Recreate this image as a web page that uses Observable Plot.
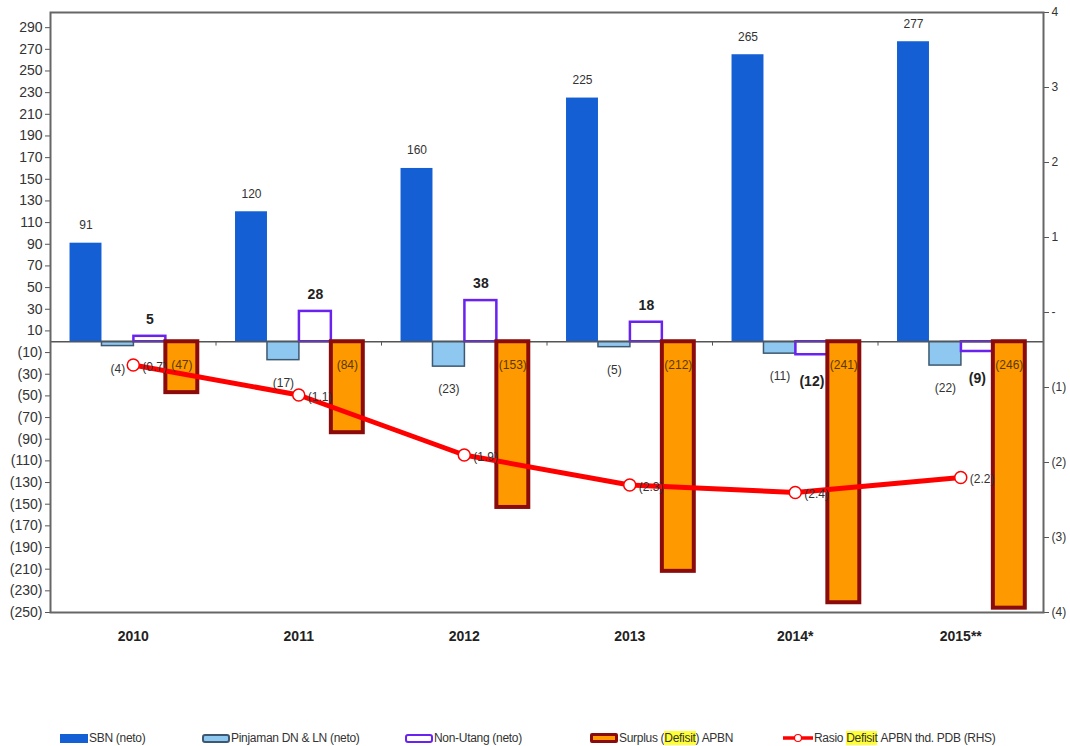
<!DOCTYPE html>
<html>
<head>
<meta charset="utf-8">
<script src="https://cdn.jsdelivr.net/npm/d3@7"></script>
<script src="https://cdn.jsdelivr.net/npm/@observablehq/plot@0.6"></script>
<style>
  body { margin: 0; background: #fff; font-family: "Liberation Sans Narrow", "Arial Narrow", "Liberation Sans", Arial, sans-serif; }
  #wrap { position: relative; width: 1070px; height: 746px; }
  #legend { position: absolute; left: 0; top: 730px; width: 1070px; height: 16px; font-size: 12px; color: #333; }
  .item { position: absolute; top: 0; display: flex; align-items: center; height: 16px; white-space: nowrap; letter-spacing: -0.3px; }
  .sw { width: 28px; height: 9px; box-sizing: border-box; margin-right: 1px; }
  .hl { background: #ffff33; }
</style>
</head>
<body>
<div id="wrap">
  <div id="chart"></div>
  <div id="legend">
    <div class="item" style="left:60px"><div class="sw" style="background:#135fd3"></div>SBN (neto)</div>
    <div class="item" style="left:202px"><div class="sw" style="background:#8ec8f0;border:2px solid #3d5870;border-radius:3px"></div>Pinjaman DN &amp; LN (neto)</div>
    <div class="item" style="left:405px"><div class="sw" style="background:#fff;border:2px solid #6a22f0;border-radius:3px"></div>Non-Utang (neto)</div>
    <div class="item" style="left:590px"><div class="sw" style="background:#ff9900;border:3px solid #8b0a0a;border-radius:2px;height:10px"></div>Surplus (<span class="hl">Defisit</span>) APBN</div>
    <div class="item" style="left:783px"><svg width="30" height="12" style="margin-right:1px"><line x1="0" y1="6" x2="30" y2="6" stroke="#ff0000" stroke-width="3.5"/><circle cx="15" cy="6" r="3.5" fill="#fff" stroke="#ff0000" stroke-width="1.2"/></svg>Rasio&nbsp;<span class="hl">Defisit</span>&nbsp;APBN thd. PDB (RHS)</div>
  </div>
</div>
<script>
// ---- data ----
const years = ["2010", "2011", "2012", "2013", "2014*", "2015**"];
const sbn = [91, 120, 160, 225, 265, 277];
const pinjaman = [-4, -17, -23, -5, -11, -22];
const nonUtang = [5, 28, 38, 18, -12, -9];
const surplus = [-47, -84, -153, -212, -241, -246];
const rasio = [-0.7, -1.1, -1.9, -2.3, -2.4, -2.2];
const rasioLabels = ["(0.7)", "(1.1)", "(1.9)", "(2.3)", "(2.4)", "(2.2)"];
const leftTicks = [-250, -230, -210, -190, -170, -150, -130, -110, -90, -70, -50, -30, -10, 10, 30, 50, 70, 90, 110, 130, 150, 170, 190, 210, 230, 250, 270, 290];
const rightTicks = [-4, -3, -2, -1, 0, 1, 2, 3, 4];

// ---- layout helpers ----
const leftDomain = [-250, 304];
const rightDomain = [-4, 4];
const toLeft = d3.scaleLinear().domain(rightDomain).range(leftDomain);
const fmt = v => v === 0 ? "-" : (v < 0 ? `(${Math.abs(v)})` : `${v}`);

const barW = 0.193, groupOff = 0.118;
const seriesList = [
  {key: "sbn", values: sbn},
  {key: "pinjaman", values: pinjaman},
  {key: "nonUtang", values: nonUtang},
  {key: "surplus", values: surplus}
];
const rows = [];
seriesList.forEach((s, k) => {
  s.values.forEach((v, i) => {
    const x1 = i + groupOff + k * barW;
    rows.push({series: s.key, i, v, x1, x2: x1 + barW, xc: x1 + barW / 2, label: fmt(v)});
  });
});
const bySeries = key => rows.filter(r => r.series === key);
const lineData = rasio.map((r, i) => ({x: i + 0.5, y: toLeft(r), label: rasioLabels[i]}));

const font = '"Liberation Sans Narrow", "Arial Narrow", "Liberation Sans", Arial, sans-serif';

const chart = Plot.plot({
  width: 1070,
  height: 660,
  marginLeft: 50,
  marginRight: 27,
  marginTop: 12,
  marginBottom: 48,
  style: {fontFamily: font, fontSize: "13px", color: "#333", background: "#fff"},
  x: {type: "linear", domain: [0, 6]},
  y: {type: "linear", domain: leftDomain},
  marks: [
    Plot.rectY(bySeries("sbn"), {x1: "x1", x2: "x2", y1: 0, y2: "v", fill: "#135fd3"}),
    Plot.rectY(bySeries("pinjaman"), {x1: "x1", x2: "x2", y1: 0, y2: "v", fill: "#8ec8f0", stroke: "#3d5870", strokeWidth: 1.5}),
    Plot.rectY(bySeries("nonUtang"), {x1: "x1", x2: "x2", y1: 0, y2: "v", fill: "#fff", stroke: "#6a22f0", strokeWidth: 2.5}),
    Plot.ruleY([0], {stroke: "#555", strokeWidth: 1.5}),
    Plot.ruleX([1, 2, 3, 4, 5], {y1: 0, y2: -4, stroke: "#555", strokeWidth: 1}),
    Plot.rectY(bySeries("surplus"), {x1: "x1", x2: "x2", y1: 0, y2: "v", fill: "#ff9900", stroke: "#8b0a0a", strokeWidth: 4}),
    Plot.line(lineData, {x: "x", y: "y", stroke: "#ff0000", strokeWidth: 5}),
    Plot.dot(lineData, {x: "x", y: "y", r: 6, fill: "#fff", stroke: "#ff0000", strokeWidth: 1.5}),
    // labels
    Plot.text(bySeries("sbn"), {x: "xc", y: "v", text: "label", dy: -18, fill: "#333", fontSize: 12}),
    Plot.text(bySeries("pinjaman"), {x: "xc", y: "v", text: "label", dy: 23, fill: "#333", fontSize: 12}),
    Plot.text(bySeries("nonUtang").filter(d => d.v > 0), {x: "xc", y: "v", text: "label", dy: -17, fill: "#222", fontSize: 14, fontWeight: "bold"}),
    Plot.text(bySeries("nonUtang").filter(d => d.v < 0), {x: "xc", y: "v", text: "label", dy: 27, fill: "#222", fontSize: 14, fontWeight: "bold"}),
    Plot.text(bySeries("surplus"), {x: "xc", y: 0, text: "label", dy: 23, fill: "#5a3a00", fontSize: 12}),
    Plot.text(lineData, {x: "x", y: "y", text: "label", dx: 9, dy: 2, textAnchor: "start", fill: "#333", fontSize: 12}),
    // axes
    Plot.axisY({ticks: leftTicks, tickFormat: fmt, anchor: "left", tickSize: 5, tickPadding: 3, fontSize: 14, stroke: "#555"}),
    Plot.axisY({ticks: rightTicks.map(t => toLeft(t)), tickFormat: d => fmt(Math.round(toLeft.invert(d))), anchor: "right", tickSize: 5, tickPadding: 3, fontSize: 12, stroke: "#555"}),
    Plot.axisX({ticks: years.map((_, i) => i + 0.5), tickFormat: d => years[Math.floor(d)], anchor: "bottom", tickSize: 0, tickPadding: 19, fontSize: 14, fontWeight: "bold", fill: "#222"}),
    Plot.frame({stroke: "#666", strokeWidth: 2})
  ]
});
document.getElementById("chart").appendChild(chart);
</script>
</body>
</html>
